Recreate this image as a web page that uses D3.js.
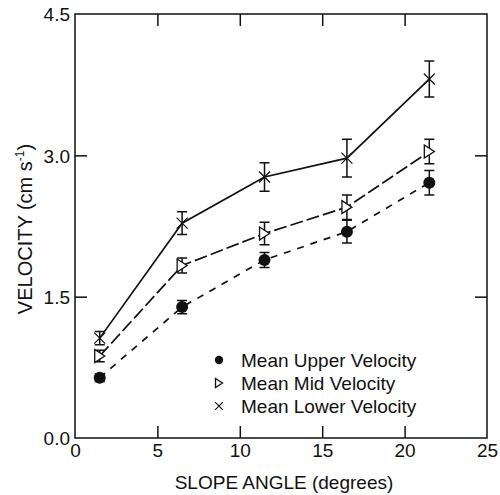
<!DOCTYPE html>
<html>
<head>
<meta charset="utf-8">
<script src="https://cdn.jsdelivr.net/npm/d3@7"></script>
<style>
  html, body { margin: 0; padding: 0; background: #fff; }
  text { font-family: "Liberation Sans", Arial, Helvetica, sans-serif; fill: #111; }
</style>
</head>
<body>
<svg id="chart" width="500" height="495"></svg>
<script>
// ---- data ----
const slopeAngles = [1.5, 6.5, 11.5, 16.5, 21.5];
const upperVelocity = [0.64, 1.39, 1.89, 2.19, 2.71];
const upperError    = [0.04, 0.07, 0.08, 0.12, 0.13];
const midVelocity   = [0.87, 1.83, 2.17, 2.45, 3.04];
const midError      = [0.06, 0.08, 0.12, 0.13, 0.13];
const lowerVelocity = [1.06, 2.28, 2.77, 2.97, 3.81];
const lowerError    = [0.07, 0.12, 0.15, 0.20, 0.19];
const xTicks = [0, 5, 10, 15, 20, 25];
const yTicks = [0.0, 1.5, 3.0, 4.5];
const seriesNames = ["Mean Upper Velocity", "Mean Mid Velocity", "Mean Lower Velocity"];

const svg = d3.select("#chart");
const margin = {left: 75, top: 14, right: 13, bottom: 57};
const W = 500, H = 495;
const x = d3.scaleLinear().domain([0, 25]).range([margin.left, W - margin.right]);
const y = d3.scaleLinear().domain([0, 4.5]).range([H - margin.bottom, margin.top]);
const FS = 19;

// axes with inward ticks
const fmtY = d3.format(".1f");
const gB = svg.append("g").attr("transform", `translate(0,${y(0)})`)
  .call(d3.axisBottom(x).tickValues(xTicks).tickSize(-12).tickPadding(6).tickFormat(d3.format("d")));
const gT = svg.append("g").attr("transform", `translate(0,${y(4.5)})`)
  .call(d3.axisTop(x).tickValues(xTicks.slice(1, -1)).tickSize(-12).tickFormat(""));
const gL = svg.append("g").attr("transform", `translate(${x(0)},0)`)
  .call(d3.axisLeft(y).tickValues(yTicks).tickSize(-12).tickPadding(5).tickFormat(fmtY));
const gR = svg.append("g").attr("transform", `translate(${x(25)},0)`)
  .call(d3.axisRight(y).tickValues(yTicks.slice(1, -1)).tickSize(-12).tickFormat(""));
[gB, gT, gL, gR].forEach(g => {
  g.select(".domain").remove();
  g.selectAll(".tick line").attr("stroke", "#111").attr("stroke-width", 1.5);
  g.selectAll("text").attr("font-size", FS).attr("font-family", "Liberation Sans, Arial, sans-serif").attr("fill", "#111");
});
gB.selectAll(".tick line").filter(d => d === 0 || d === 25).remove();
gL.selectAll(".tick line").filter(d => d === 0 || d === 4.5).remove();
gL.selectAll("text").attr("dy", "0.36em");

// frame
svg.append("rect")
  .attr("x", x(0)).attr("y", y(4.5))
  .attr("width", x(25) - x(0)).attr("height", y(0) - y(4.5))
  .attr("fill", "none").attr("stroke", "#111").attr("stroke-width", 1.5);

// axis titles
svg.append("text").attr("x", (x(0) + x(25)) / 2 + 3).attr("y", 489)
  .attr("text-anchor", "middle").attr("font-size", FS).text("SLOPE ANGLE (degrees)");
const yl = svg.append("text").attr("transform", `translate(32,${(y(0) + y(4.5)) / 2 + 3}) rotate(-90)`)
  .attr("text-anchor", "middle").attr("font-size", FS + 1);
yl.append("tspan").text("VELOCITY (cm s");
yl.append("tspan").attr("font-size", 12).attr("dy", -8).text("-1");
yl.append("tspan").attr("dy", 8).text(")");

const series = [
  {name: seriesNames[0], vals: upperVelocity, err: upperError, dash: "7,7", marker: "circle"},
  {name: seriesNames[1], vals: midVelocity, err: midError, dash: "13,4", marker: "tri"},
  {name: seriesNames[2], vals: lowerVelocity, err: lowerError, dash: null, marker: "cross"}
];

const line = d3.line().x(d => x(d[0])).y(d => y(d[1]));

function drawMarker(g, type, cx, cy, s) {
  if (type === "circle") {
    g.append("circle").attr("cx", cx).attr("cy", cy).attr("r", 6 * s).attr("fill", "#111");
  } else if (type === "tri") {
    const w = 5 * s, h = 6.5 * s;
    g.append("path").attr("d", `M${cx - w},${cy - h}L${cx + w},${cy}L${cx - w},${cy + h}Z`)
      .attr("fill", "#fff").attr("stroke", "#111").attr("stroke-width", 1.3);
  } else {
    const r = 5.5 * s;
    g.append("path").attr("d", `M${cx - r},${cy - r}L${cx + r},${cy + r}M${cx - r},${cy + r}L${cx + r},${cy - r}`)
      .attr("fill", "none").attr("stroke", "#111").attr("stroke-width", 1.2);
  }
}

series.forEach(s => {
  const pts = slopeAngles.map((a, i) => [a, s.vals[i]]);
  svg.append("path").datum(pts).attr("d", line)
    .attr("fill", "none").attr("stroke", "#111").attr("stroke-width", 1.7)
    .attr("stroke-dasharray", s.dash);
  const g = svg.append("g");
  pts.forEach((p, i) => {
    const cx = x(p[0]), y1 = y(p[1] + s.err[i]), y2 = y(p[1] - s.err[i]);
    g.append("path").attr("d", `M${cx},${y1}V${y2}M${cx - 5},${y1}H${cx + 5}M${cx - 5},${y2}H${cx + 5}`)
      .attr("stroke", "#111").attr("stroke-width", 1.5).attr("fill", "none");
    drawMarker(g, s.marker, cx, y(p[1]), 1);
  });
});

// legend
const legY = [360, 383, 406];
series.forEach((s, i) => {
  const g = svg.append("g");
  drawMarker(g, s.marker, 219, legY[i], 0.7);
  g.append("text").attr("x", 241).attr("y", legY[i]).attr("dy", "0.36em")
    .attr("font-size", FS).text(s.name);
});
</script>
</body>
</html>
